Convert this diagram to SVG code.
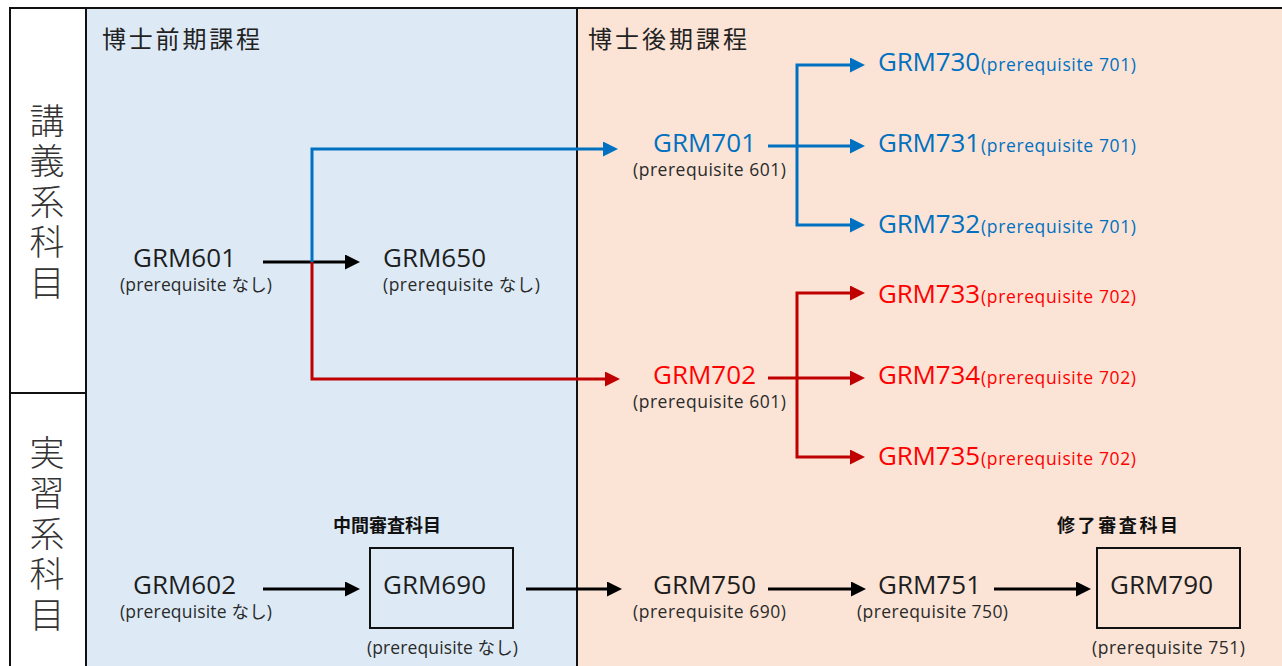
<svg xmlns="http://www.w3.org/2000/svg" width="1282" height="666" viewBox="0 0 1282 666">
<style>
.frame{stroke:#111;stroke-width:2;fill:none}
.jp{font-family:"Noto Sans CJK JP","Noto Sans",sans-serif;fill:#222}
.vt{font-family:"Noto Sans CJK JP",sans-serif;font-size:35px;font-weight:300;fill:#333;writing-mode:vertical-rl;letter-spacing:5.5px}
.hd{font-size:24px}
.bd{font-size:18px;font-weight:700;fill:#111}
.code{font-family:"Open Sans","Noto Sans CJK JP",sans-serif;font-size:26px;fill:#1e1e1e}
.sub{font-family:"Open Sans","Noto Sans CJK JP",sans-serif;font-size:17.5px;fill:#2a2a2a}
.blue{fill:#0070C0}
.red{fill:#FF0000}
.box{fill:none;stroke:#111;stroke-width:2}
.ln{fill:none;stroke-width:3;stroke-linejoin:miter}
.k{stroke:#000;marker-end:url(#ak)}
.b{stroke:#0070C0}
.be{marker-end:url(#ab)}
.r{stroke:#C00000}
.re{marker-end:url(#ar)}
</style>
<defs>
<marker id="ak" markerUnits="userSpaceOnUse" markerWidth="16" markerHeight="16" refX="5" refY="7.5" orient="auto"><path d="M0,0 L15,7.5 L0,15 z" fill="#000"/></marker>
<marker id="ab" markerUnits="userSpaceOnUse" markerWidth="16" markerHeight="16" refX="5" refY="7.5" orient="auto"><path d="M0,0 L15,7.5 L0,15 z" fill="#0070C0"/></marker>
<marker id="ar" markerUnits="userSpaceOnUse" markerWidth="16" markerHeight="16" refX="5" refY="7.5" orient="auto"><path d="M0,0 L15,7.5 L0,15 z" fill="#C00000"/></marker>
</defs>

<g id="background">
<rect x="0" y="0" width="1282" height="666" fill="#fff"/>
<rect x="86" y="8" width="491" height="660" fill="#DDEAF6"/>
<rect x="577" y="8" width="706" height="660" fill="#FBE4D6"/>
<path class="frame" d="M10,668 V8 H1284 M86,8 V668 M577,8 V668 M10,393 H86"/>
</g>

<g id="row-labels">
<text class="vt" x="47" y="103">講義系科目</text>
<text class="vt" x="47" y="435">実習系科目</text>
</g>

<g id="headers">
<text class="jp hd" x="102" y="48" textLength="158">博士前期課程</text>
<text class="jp hd" x="588" y="48" textLength="159">博士後期課程</text>
</g>

<g id="connectors">
<path class="ln k" d="M263,262 H350"/>
<path class="ln b be" d="M312,262 V149 H608"/>
<path class="ln r re" d="M312,262 V379 H610"/>
<path class="ln b be" d="M768,146 H855"/>
<path class="ln b be" d="M797,146 V65 H855"/>
<path class="ln b be" d="M797,146 V225 H855"/>
<path class="ln r re" d="M768,378 H855"/>
<path class="ln r re" d="M797,378 V293 H855"/>
<path class="ln r re" d="M797,378 V457 H855"/>
<path class="ln k" d="M263,589 H350"/>
<path class="ln k" d="M526,589 H612"/>
<path class="ln k" d="M768,589 H856"/>
<path class="ln k" d="M994,589 H1081"/>
</g>

<g id="GRM601">
<text class="code" x="133" y="267" textLength="103">GRM601</text>
<text class="sub" x="120" y="291" textLength="152">(prerequisite なし)</text>
</g>
<g id="GRM650">
<text class="code" x="383" y="267" textLength="103">GRM650</text>
<text class="sub" x="383" y="291" textLength="157">(prerequisite なし)</text>
</g>
<g id="GRM701">
<text class="code blue" x="653" y="152" textLength="103">GRM701</text>
<text class="sub" x="633" y="176" textLength="153">(prerequisite 601)</text>
</g>
<g id="GRM702">
<text class="code red" x="653" y="384" textLength="103">GRM702</text>
<text class="sub" x="633" y="408" textLength="153">(prerequisite 601)</text>
</g>
<g id="GRM730">
<text class="code blue" x="878" y="71" textLength="102">GRM730</text>
<text class="sub blue" x="981" y="71" textLength="155">(prerequisite 701)</text>
</g>
<g id="GRM731">
<text class="code blue" x="878" y="152" textLength="102">GRM731</text>
<text class="sub blue" x="981" y="152" textLength="155">(prerequisite 701)</text>
</g>
<g id="GRM732">
<text class="code blue" x="878" y="233" textLength="102">GRM732</text>
<text class="sub blue" x="981" y="233" textLength="155">(prerequisite 701)</text>
</g>
<g id="GRM733">
<text class="code red" x="878" y="303" textLength="102">GRM733</text>
<text class="sub red" x="981" y="303" textLength="155">(prerequisite 702)</text>
</g>
<g id="GRM734">
<text class="code red" x="878" y="384" textLength="102">GRM734</text>
<text class="sub red" x="981" y="384" textLength="155">(prerequisite 702)</text>
</g>
<g id="GRM735">
<text class="code red" x="878" y="465" textLength="102">GRM735</text>
<text class="sub red" x="981" y="465" textLength="155">(prerequisite 702)</text>
</g>
<g id="GRM602">
<text class="code" x="133" y="594" textLength="103">GRM602</text>
<text class="sub" x="120" y="618" textLength="152">(prerequisite なし)</text>
</g>
<g id="GRM690">
<text class="jp bd" x="333" y="532" textLength="108">中間審査科目</text>
<rect class="box" x="370" y="548" width="143" height="80"/>
<text class="code" x="383" y="594" textLength="103">GRM690</text>
<text class="sub" x="367" y="654" textLength="151">(prerequisite なし)</text>
</g>
<g id="GRM750">
<text class="code" x="653" y="594" textLength="103">GRM750</text>
<text class="sub" x="633" y="618" textLength="153">(prerequisite 690)</text>
</g>
<g id="GRM751">
<text class="code" x="878" y="594" textLength="103">GRM751</text>
<text class="sub" x="857" y="618" textLength="151">(prerequisite 750)</text>
</g>
<g id="GRM790">
<text class="jp bd" x="1057" y="532" textLength="121">修了審査科目</text>
<rect class="box" x="1097" y="548" width="143" height="80"/>
<text class="code" x="1110" y="594" textLength="103">GRM790</text>
<text class="sub" x="1092" y="654" textLength="153">(prerequisite 751)</text>
</g>
</svg>
